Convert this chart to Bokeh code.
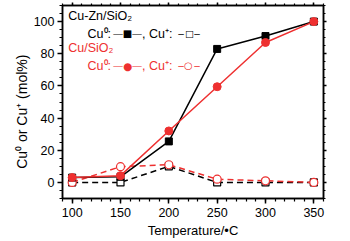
from bokeh.plotting import figure
from bokeh.models import LinearAxis, Range1d, FixedTicker, Label, ColumnDataSource, CustomJSTickFormatter
from bokeh.embed import file_html
from bokeh.resources import INLINE

temps = [100, 150, 200, 250, 300, 350]
cuzn_cu0 = [3, 3.5, 25.5, 83, 91, 100]
cuzn_cup = [0, 0, 10, 0, 0, 0]
cu_cu0 = [3, 4.2, 32, 59.5, 87, 100]
cu_cup = [0, 9.8, 11, 2, 1, 0]

x_ticks = [100, 150, 200, 250, 300, 350]
y_ticks = [0, 20, 40, 60, 80, 100]

RED = "#ee3030"
FONT = "Liberation Sans"
SYM = "DejaVu Sans"

p = figure(width=349, height=240, x_range=Range1d(90, 360), y_range=Range1d(-10, 110),
           output_backend="svg", toolbar_location=None,
           min_border_left=62, min_border_right=26, min_border_top=5, min_border_bottom=41)
p.grid.visible = False
p.outline_line_color = "black"
p.outline_line_width = 1.5
p.background_fill_color = "white"
p.border_fill_color = "white"

for ax in (p.xaxis[0], p.yaxis[0]):
    ax.axis_line_width = 1.5
    ax.major_tick_line_width = 1.5
    ax.minor_tick_line_width = 1.2
    ax.major_tick_out = 5
    ax.major_tick_in = 0
    ax.minor_tick_out = 3
    ax.minor_tick_in = 0
    ax.major_label_text_font = FONT
    ax.major_label_text_font_size = "12.5px"
    ax.major_label_text_color = "black"
    ax.axis_label_text_font = FONT
    ax.axis_label_text_font_style = "normal"
    ax.axis_label_text_color = "black"

p.xaxis[0].axis_label_text_font_size = "13px"
p.yaxis[0].axis_label_text_font_size = "14px"
p.xaxis[0].ticker = FixedTicker(ticks=x_ticks, minor_ticks=list(range(90, 361, 10)))
p.yaxis[0].ticker = FixedTicker(ticks=y_ticks, minor_ticks=list(range(-10, 111, 5)))
p.xaxis[0].axis_label = "Temperature/\u2022C"
p.yaxis[0].axis_label = "Cu\u2070 or Cu\u207A (mol%)" + "\u00A0" * 5
p.xaxis[0].axis_label_standoff = 3
p.yaxis[0].axis_label_standoff = 1
p.xaxis[0].major_label_standoff = 4
p.yaxis[0].major_label_standoff = 3

blank = CustomJSTickFormatter(code="return ''")
top = LinearAxis(ticker=FixedTicker(ticks=x_ticks, minor_ticks=list(range(90, 361, 10))),
                 formatter=blank)
right = LinearAxis(ticker=FixedTicker(ticks=y_ticks, minor_ticks=list(range(-10, 111, 5))),
                   formatter=blank)
for ax in (top, right):
    ax.axis_line_width = 1.5
    ax.major_tick_out = 3
    ax.major_tick_in = 0
    ax.minor_tick_out = 2
    ax.minor_tick_in = 0
    ax.major_tick_line_width = 1.5
    ax.minor_tick_line_width = 1.2
    ax.major_label_standoff = 0
p.add_layout(top, "above")
p.add_layout(right, "right")

src = ColumnDataSource(dict(t=temps, a=cuzn_cu0, b=cuzn_cup, c=cu_cu0, d=cu_cup))

p.line("t", "b", source=src, color="black", line_width=1.5, line_dash="6 4")
p.scatter("t", "b", source=src, marker="square", size=7, line_color="black",
          fill_color="white", line_width=1.2)
p.line("t", "d", source=src, color=RED, line_width=1.5, line_dash="6 4")
p.scatter("t", "d", source=src, marker="circle", size=8, line_color=RED,
          fill_color="white", line_width=1.2)
p.line("t", "a", source=src, color="black", line_width=1.5)
p.scatter("t", "a", source=src, marker="square", size=7, color="black")
p.line("t", "c", source=src, color=RED, line_width=1.5)
p.scatter("t", "c", source=src, marker="circle", size=8, color=RED)

# legend written as text pieces (text, x, y, colour, font, size, align)
row_y = [103.2, 92.5, 83.6, 72.6]
legend_pieces = [
    ("Cu-Zn/SiO\u2082", 96.0, row_y[0], "black", FONT, "12.5px", "left"),
    ("Cu\u2070:", 115.9, row_y[1], "black", FONT, "12.5px", "left"),
    ("\u2014", 147.4, row_y[1], "black", FONT, "9.5px", "center"),
    ("\u25A0", 157.2, row_y[1], "black", SYM, "10px", "center"),
    ("\u2014", 167.1, row_y[1], "black", FONT, "9.5px", "center"),
    (", Cu\u207A:", 172.2, row_y[1], "black", FONT, "12.5px", "left"),
    ("\u2013", 212.6, row_y[1], "black", FONT, "10px", "center"),
    ("\u25A1", 221.4, row_y[1], "black", SYM, "9.5px", "center"),
    ("\u2013", 229.1, row_y[1], "black", FONT, "10px", "center"),
    ("Cu/SiO\u2082", 96.0, row_y[2], RED, FONT, "12.5px", "left"),
    ("Cu\u2070:", 115.9, row_y[3], RED, FONT, "12.5px", "left"),
    ("\u2014", 147.4, row_y[3], RED, FONT, "9.5px", "center"),
    ("\u25CF", 157.2, row_y[3], RED, SYM, "10.5px", "center"),
    ("\u2014", 167.1, row_y[3], RED, FONT, "9.5px", "center"),
    (", Cu\u207A:", 172.2, row_y[3], RED, FONT, "12.5px", "left"),
    ("\u2013", 212.6, row_y[3], RED, FONT, "10px", "center"),
    ("\u25CB", 220.3, row_y[3], RED, SYM, "10px", "center"),
    ("\u2013", 229.1, row_y[3], RED, FONT, "10px", "center"),
]
for txt, lx, ly, col, fnt, fs, al in legend_pieces:
    p.add_layout(Label(x=lx, y=ly, text=txt, text_font=fnt, text_font_size=fs,
                       text_color=col, text_baseline="middle", text_align=al))

open("out.html", "w").write(file_html(p, INLINE))
